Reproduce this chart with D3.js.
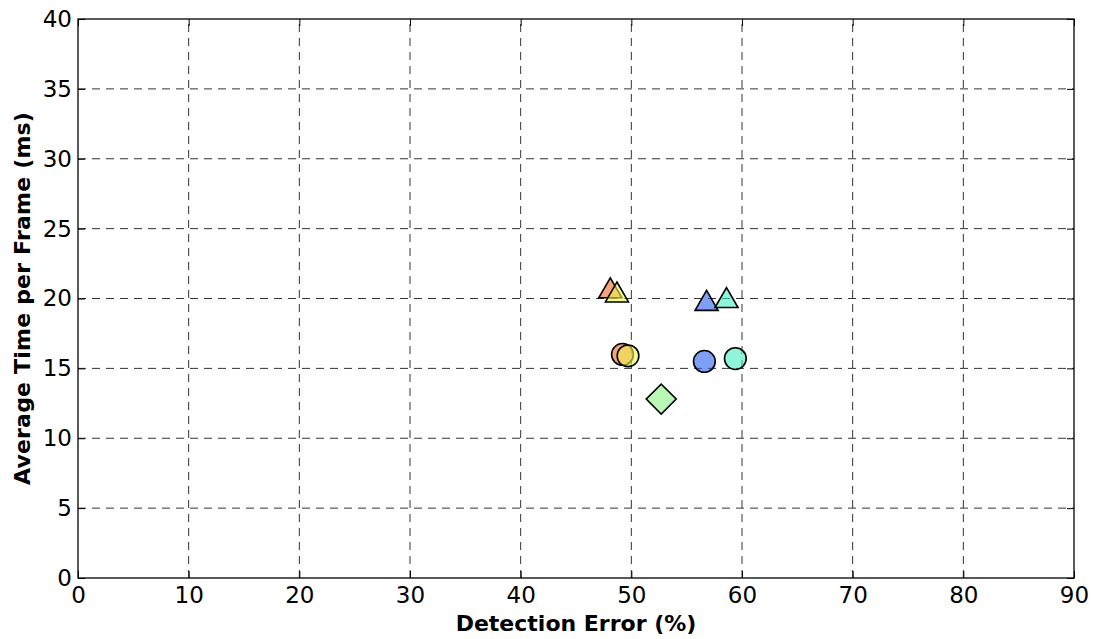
<!DOCTYPE html>
<html>
<head>
<meta charset="utf-8">
<script src="https://cdn.jsdelivr.net/npm/d3@7"></script>
<style>
  html, body { margin: 0; padding: 0; background: #fff; }
  svg { display: block; font-family: "DejaVu Sans", sans-serif; }
</style>
</head>
<body>
<svg id="chart" width="1094" height="639"></svg>
<script>
// Detection error vs. time per frame for each configuration
const errorPct   = [48.1, 48.7, 49.2, 49.7, 56.8, 58.6, 56.6, 59.4, 52.7];
const timeMs     = [20.6, 20.3, 16.0, 15.9, 19.7, 19.9, 15.5, 15.7, 12.8];
const markerKind = ["triangle", "triangle", "circle", "circle", "triangle", "triangle", "circle", "circle", "diamond"];
const markerFill = ["#f26721", "#ecf450", "#f26721", "#ecf450", "#2a5fee", "#44eec1", "#2a5fee", "#44eec1", "#89f284"];

const xTicks = [0, 10, 20, 30, 40, 50, 60, 70, 80, 90];
const yTicks = [0, 5, 10, 15, 20, 25, 30, 35, 40];

const svg = d3.select("#chart");
const margin = { left: 78, right: 20, top: 19, bottom: 61 };
const W = 1094, H = 639;
const x = d3.scaleLinear().domain([0, 90]).range([margin.left, W - margin.right]);
const y = d3.scaleLinear().domain([0, 40]).range([H - margin.bottom, margin.top]);

// dashed grid
const grid = svg.append("g");
grid.selectAll("line.gx").data(xTicks.slice(1, -1)).join("line")
  .attr("x1", d => x(d)).attr("x2", d => x(d))
  .attr("y1", y(0)).attr("y2", y(40))
  .attr("stroke", "#333").attr("stroke-width", 1).attr("stroke-dasharray", "8,6");
grid.selectAll("line.gy").data(yTicks.slice(1, -1)).join("line")
  .attr("y1", d => y(d)).attr("y2", d => y(d))
  .attr("x1", x(0)).attr("x2", x(90))
  .attr("stroke", "#333").attr("stroke-width", 1).attr("stroke-dasharray", "8,6");

// axes with inward ticks on all sides
const tickLen = 7;
const fontSize = 23;
svg.append("g").attr("transform", `translate(0,${y(0)})`)
  .call(d3.axisBottom(x).tickValues(xTicks).tickSizeInner(-tickLen).tickSizeOuter(0).tickPadding(9))
  .call(g => g.select(".domain").remove())
  .call(g => g.selectAll("text").attr("font-size", fontSize).attr("font-family", "DejaVu Sans").attr("fill", "#000"));
svg.append("g").attr("transform", `translate(0,${y(40)})`)
  .call(d3.axisTop(x).tickValues(xTicks).tickSizeInner(-tickLen).tickSizeOuter(0).tickFormat(""))
  .call(g => g.select(".domain").remove());
svg.append("g").attr("transform", `translate(${x(0)},0)`)
  .call(d3.axisLeft(y).tickValues(yTicks).tickSizeInner(-tickLen).tickSizeOuter(0).tickPadding(6))
  .call(g => g.select(".domain").remove())
  .call(g => g.selectAll("text").attr("font-size", fontSize).attr("font-family", "DejaVu Sans").attr("fill", "#000"));
svg.append("g").attr("transform", `translate(${x(90)},0)`)
  .call(d3.axisRight(y).tickValues(yTicks).tickSizeInner(-tickLen).tickSizeOuter(0).tickFormat(""))
  .call(g => g.select(".domain").remove());

// frame
svg.append("rect")
  .attr("x", x(0)).attr("y", y(40))
  .attr("width", x(90) - x(0)).attr("height", y(0) - y(40))
  .attr("fill", "none").attr("stroke", "#000").attr("stroke-width", 1.3);

// markers
const shapeOf = { circle: d3.symbolCircle, triangle: d3.symbolTriangle, diamond: d3.symbolSquare };
const sizeOf = { circle: 370, triangle: 230, diamond: 450 };
const pts = errorPct.map((e, i) => ({ e, t: timeMs[i], k: markerKind[i], c: markerFill[i] }));
svg.append("g").selectAll("path").data(pts).join("path")
  .attr("d", d => d3.symbol().type(shapeOf[d.k]).size(sizeOf[d.k])())
  .attr("transform", d => {
    let tr = `translate(${x(d.e)},${y(d.t)})`;
    if (d.k === "diamond") tr += " rotate(45)";
    if (d.k === "triangle") tr += " translate(0,1)";
    return tr;
  })
  .attr("fill", d => d.c).attr("fill-opacity", 0.6)
  .attr("stroke", "#000").attr("stroke-width", 1.6);

// axis titles
svg.append("text")
  .attr("x", (x(0) + x(90)) / 2).attr("y", 631)
  .attr("text-anchor", "middle").attr("font-weight", "bold").attr("font-size", 22)
  .text("Detection Error (%)");
svg.append("text")
  .attr("transform", `translate(30,${(y(0) + y(40)) / 2}) rotate(-90)`)
  .attr("text-anchor", "middle").attr("font-weight", "bold").attr("font-size", 22)
  .attr("letter-spacing", 0.2)
  .text("Average Time per Frame (ms)");
</script>
</body>
</html>
